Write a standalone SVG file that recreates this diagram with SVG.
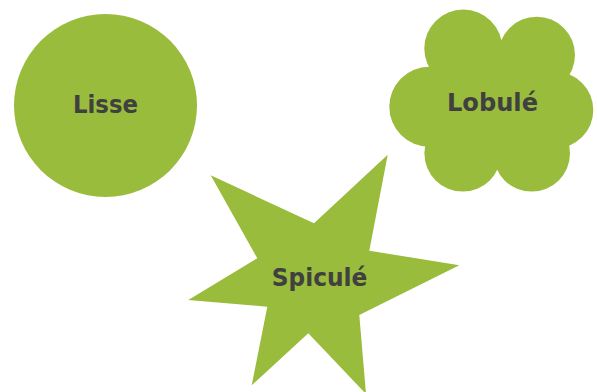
<svg xmlns="http://www.w3.org/2000/svg" width="597" height="392" viewBox="0 0 597 392">
<style>
.shape{fill:#99BC3C}
.lbl{font-family:"DejaVu Sans",sans-serif;font-weight:bold;font-size:24px;fill:#404040;text-anchor:middle}
</style>
<rect width="597" height="392" fill="#ffffff"/>
<g id="lisse">
<circle class="shape" cx="105.5" cy="105.5" r="91.5"/>
<text class="lbl" x="105.5" y="113" textLength="65" lengthAdjust="spacingAndGlyphs">Lisse</text>
</g>
<g id="lobule">
<g class="shape">
<circle cx="463.3" cy="48.5" r="39"/>
<circle cx="536.7" cy="55" r="38.3"/>
<circle cx="555" cy="110" r="38.3"/>
<circle cx="531.7" cy="153.3" r="38.3"/>
<circle cx="462.7" cy="153.3" r="38.3"/>
<circle cx="429.3" cy="106.7" r="40"/>
<circle cx="495" cy="105" r="55"/>
</g>
<text class="lbl" x="492.5" y="111" textLength="91" lengthAdjust="spacingAndGlyphs">Lobulé</text>
</g>
<g id="spicule">
<polygon class="shape" points="210.7,175.3 314,223.3 387.7,154.7 369.3,250.7 459.3,265.3 359.3,315 366,394 308.3,333.3 251.7,385.3 267.3,306.7 188.3,300 257.3,258.3"/>
<text class="lbl" x="319.5" y="286" textLength="95.5" lengthAdjust="spacingAndGlyphs">Spiculé</text>
</g>
<g id="connectors"/>
</svg>
